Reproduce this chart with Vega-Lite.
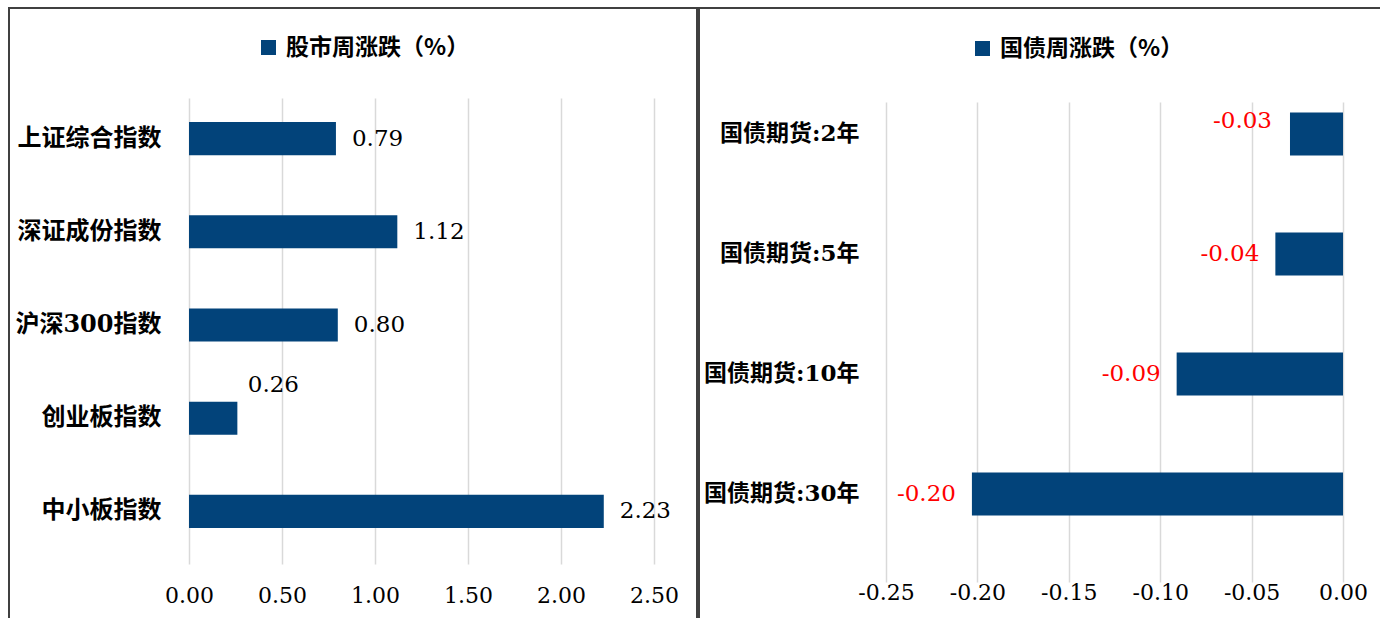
{
  "$schema": "https://vega.github.io/schema/vega-lite/v6.json",
  "padding": {"left": 8, "top": 7, "right": 0, "bottom": 0},
  "background": "white",
  "bounds": "flush",
  "spacing": 2,
  "resolve": {"scale": {"color": "independent"}, "legend": {"color": "independent"}},
  "config": {
    "view": {"stroke": "#404040", "strokeWidth": 2},
    "locale": {"number": {"decimal": ".", "thousands": ",", "grouping": [3], "currency": ["$", ""], "minus": "-"}},
    "axis": {"domain": false, "ticks": false, "tickSize": 0, "title": null, "gridColor": "#D9D9D9", "gridWidth": 1.5, "labelColor": "#000000", "labelFlush": false, "labelOverlap": false, "labelLimit": 0}
  },
  "hconcat": [
    {
      "width": 688,
      "height": 640,
      "data": {"values": [
        {"name": "上证综合指数", "v": 0.79},
        {"name": "深证成份指数", "v": 1.12},
        {"name": "沪深300指数", "v": 0.80},
        {"name": "创业板指数", "v": 0.26},
        {"name": "中小板指数", "v": 2.23}
      ]},
      "layer": [
        {
          "mark": {"type": "bar"},
          "encoding": {
            "y": {"field": "name", "type": "nominal", "sort": null,
              "scale": {"domain": ["上证综合指数", "深证成份指数", "沪深300指数", "创业板指数", "中小板指数"], "range": [84, 550], "paddingInner": 0.645, "paddingOuter": 0.3225},
              "axis": {"orient": "left", "offset": -152, "labelPadding": 0, "labelFont": "DejaVu Serif, Noto Sans CJK SC", "labelFontSize": 24, "labelFontWeight": "bold", "grid": false}},
            "x": {"field": "v", "type": "quantitative",
              "scale": {"domain": [0, 2.5], "range": [180, 645], "nice": false, "zero": true},
              "axis": {"values": [0, 0.5, 1, 1.5, 2, 2.5], "format": ".2f", "offset": -53, "labelPadding": 0, "labelBaseline": "middle", "labelFont": "DejaVu Serif", "labelFontSize": 22, "grid": true}},
            "color": {"datum": "股市周涨跌（%）", "type": "nominal",
              "scale": {"range": ["#02437a"]},
              "legend": {"orient": "none", "legendX": 248, "legendY": 28, "title": null, "symbolType": "square", "symbolSize": 225, "symbolStrokeWidth": 0, "symbolOpacity": 1, "labelFont": "Noto Sans CJK SC", "labelFontSize": 23, "labelFontWeight": "bold", "labelColor": "#000000", "labelOffset": 6, "labelLimit": 0, "padding": 0}}
          }
        },
        {
          "transform": [{"filter": "datum.name !== '创业板指数'"}],
          "mark": {"type": "text", "align": "left", "baseline": "middle", "dx": 16, "font": "DejaVu Serif", "fontSize": 23, "color": "#000000"},
          "encoding": {
            "y": {"field": "name", "type": "nominal", "sort": null},
            "x": {"field": "v", "type": "quantitative"},
            "text": {"field": "v", "type": "quantitative", "format": ".2f"}
          }
        },
        {
          "transform": [{"filter": "datum.name === '创业板指数'"}],
          "mark": {"type": "text", "align": "center", "baseline": "middle", "dx": 36, "dy": -33, "font": "DejaVu Serif", "fontSize": 23, "color": "#000000"},
          "encoding": {
            "y": {"field": "name", "type": "nominal", "sort": null},
            "x": {"field": "v", "type": "quantitative"},
            "text": {"field": "v", "type": "quantitative", "format": ".2f"}
          }
        }
      ]
    },
    {
      "width": 690,
      "height": 640,
      "data": {"values": [
        {"name": "国债期货:2年", "v": -0.029},
        {"name": "国债期货:5年", "v": -0.037},
        {"name": "国债期货:10年", "v": -0.091},
        {"name": "国债期货:30年", "v": -0.203}
      ]},
      "layer": [
        {
          "mark": {"type": "bar"},
          "encoding": {
            "y": {"field": "name", "type": "nominal", "sort": null,
              "scale": {"domain": ["国债期货:2年", "国债期货:5年", "国债期货:10年", "国债期货:30年"], "range": [66, 546], "paddingInner": 0.64, "paddingOuter": 0.32},
              "axis": {"orient": "left", "offset": -160, "labelPadding": 0, "labelFont": "DejaVu Serif, Noto Sans CJK SC", "labelFontSize": 23, "labelFontWeight": "bold", "grid": false}},
            "x": {"field": "v", "type": "quantitative",
              "scale": {"domain": [-0.25, 0], "range": [187, 644], "nice": false, "zero": true},
              "axis": {"values": [-0.25, -0.2, -0.15, -0.1, -0.05, 0], "format": ".2f", "offset": -56, "labelPadding": 0, "labelBaseline": "middle", "labelFont": "DejaVu Serif", "labelFontSize": 22, "grid": true}},
            "color": {"datum": "国债周涨跌（%）", "type": "nominal",
              "scale": {"range": ["#02437a"]},
              "legend": {"orient": "none", "legendX": 272, "legendY": 29, "title": null, "symbolType": "square", "symbolSize": 225, "symbolStrokeWidth": 0, "symbolOpacity": 1, "labelFont": "Noto Sans CJK SC", "labelFontSize": 23, "labelFontWeight": "bold", "labelColor": "#000000", "labelOffset": 6, "labelLimit": 0, "padding": 0}}
          }
        },
        {
          "transform": [{"filter": "datum.name !== '国债期货:2年'"}],
          "mark": {"type": "text", "align": "right", "baseline": "middle", "dx": -16, "font": "DejaVu Serif", "fontSize": 23, "color": "#FF0000"},
          "encoding": {
            "y": {"field": "name", "type": "nominal", "sort": null},
            "x": {"field": "v", "type": "quantitative"},
            "text": {"field": "v", "type": "quantitative", "format": ".2f"}
          }
        },
        {
          "transform": [{"filter": "datum.name === '国债期货:2年'"}],
          "mark": {"type": "text", "align": "right", "baseline": "middle", "dx": -18, "dy": -13, "font": "DejaVu Serif", "fontSize": 23, "color": "#FF0000"},
          "encoding": {
            "y": {"field": "name", "type": "nominal", "sort": null},
            "x": {"field": "v", "type": "quantitative"},
            "text": {"field": "v", "type": "quantitative", "format": ".2f"}
          }
        }
      ]
    }
  ]
}
